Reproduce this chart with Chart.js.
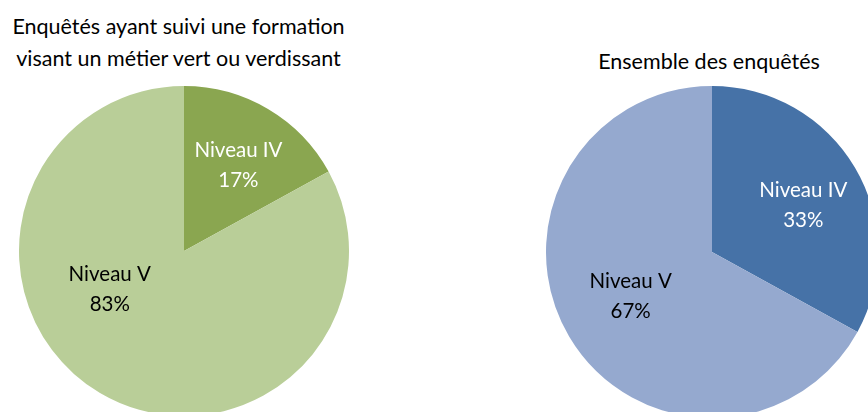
<!DOCTYPE html>
<html>
<head>
<meta charset="utf-8">
<script src="https://cdn.jsdelivr.net/npm/chart.js@4"></script>
<style>
  html, body { margin: 0; padding: 0; background: #fff; }
  #wrap { position: relative; width: 868px; height: 412px; overflow: hidden; font-family: Lato, "Open Sans", sans-serif; }
  .title { position: absolute; color: #000; font-size: 21.5px; line-height: 32px; text-align: center; white-space: nowrap; }
  canvas { position: absolute; }
</style>
</head>
<body>
<div id="wrap">
  <div class="title" id="title-left" style="left:0; width:357px; top:10px;"></div>
  <div class="title" id="title-right" style="left:558px; width:302px; top:45px;"></div>
  <canvas id="pie-left" width="330" height="330" style="left:19px; top:86px;"></canvas>
  <canvas id="pie-right" width="332" height="332" style="left:546px; top:86px;"></canvas>
</div>
<script>
// ── Data ─────────────────────────────────────────────────

const CATEGORIES = ["Niveau IV", "Niveau V"];
const TITLE_LEFT = ["Enquêtés ayant suivi une formation", "visant un métier vert ou verdissant"];
const TITLE_RIGHT = ["Ensemble des enquêtés"];
const VALUES_LEFT = [17, 83];
const VALUES_RIGHT = [33, 67];

const COLORS_LEFT = ["#8aa650", "#b9ce98"];
const COLORS_RIGHT = ["#4672a7", "#95a9cf"];
const LABEL_COLORS_LEFT = ["#ffffff", "#000000"];
const LABEL_COLORS_RIGHT = ["#ffffff", "#000000"];
// label anchor, as a fraction of the radius from the pie centre
const LABEL_POS_LEFT = [[0.33, -0.52], [-0.45, 0.23]];
const LABEL_POS_RIGHT = [[0.55, -0.28], [-0.49, 0.27]];

document.getElementById("title-left").innerHTML = TITLE_LEFT.join("<br>");
document.getElementById("title-right").innerHTML = TITLE_RIGHT.join("<br>");

// ── Slice labels ─────────────────────────────────────────

const sliceLabels = {
  id: "sliceLabels",
  afterDatasetsDraw(chart, args, opts) {
    const ctx = chart.ctx;
    const meta = chart.getDatasetMeta(0);
    const values = chart.data.datasets[0].data;
    ctx.save();
    ctx.font = "20.5px Lato, 'Open Sans', sans-serif";
    ctx.textAlign = "center";
    ctx.textBaseline = "middle";
    meta.data.forEach((arc, i) => {
      const r = arc.outerRadius;
      const cx = arc.x + opts.pos[i][0] * r;
      const cy = arc.y + opts.pos[i][1] * r;
      ctx.fillStyle = opts.colors[i];
      ctx.fillText(chart.data.labels[i], cx, cy - 15);
      ctx.fillText(values[i] + "%", cx, cy + 15);
    });
    ctx.restore();
  },
};

function makePie(id, values, colors, labelColors, labelPos) {
  return new Chart(document.getElementById(id), {
    type: "pie",
    data: {
      labels: CATEGORIES,
      datasets: [{
        data: values,
        backgroundColor: colors,
        borderWidth: 0,
        hoverOffset: 0,
      }],
    },
    options: {
      responsive: false,
      animation: false,
      events: [],
      layout: { padding: 0 },
      plugins: {
        legend: { display: false },
        tooltip: { enabled: false },
        sliceLabels: { colors: labelColors, pos: labelPos },
      },
    },
    plugins: [sliceLabels],
  });
}

makePie("pie-left", VALUES_LEFT, COLORS_LEFT, LABEL_COLORS_LEFT, LABEL_POS_LEFT);
makePie("pie-right", VALUES_RIGHT, COLORS_RIGHT, LABEL_COLORS_RIGHT, LABEL_POS_RIGHT);
</script>
</body>
</html>
